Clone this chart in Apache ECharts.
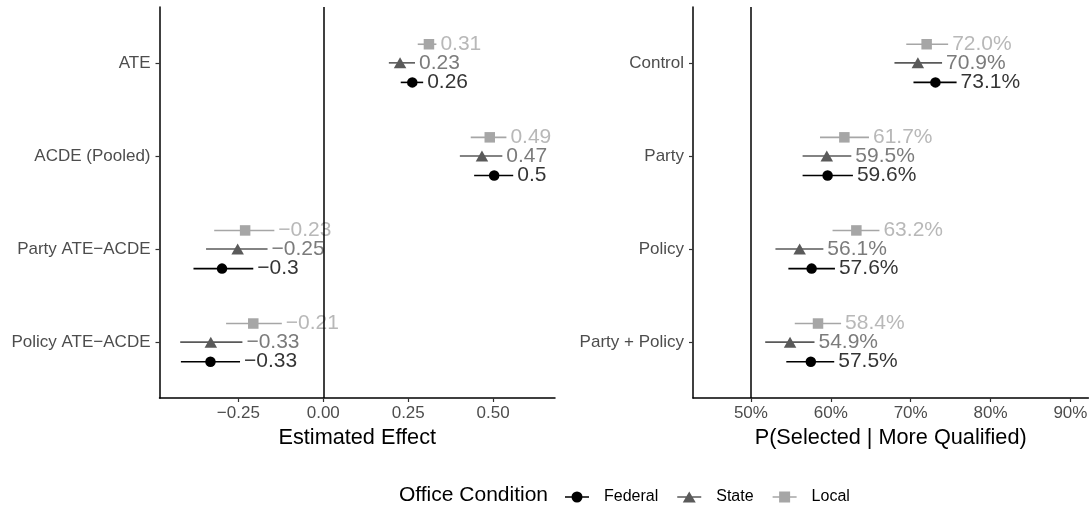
<!DOCTYPE html>
<html>
<head>
<meta charset="utf-8">
<script src="https://cdn.jsdelivr.net/npm/echarts@6/dist/echarts.min.js"></script>
<style>
html,body{margin:0;padding:0;background:#fff;}
#chart{width:1092px;height:513px;}
</style>
</head>
<body>
<div id="chart"></div>
<script>
// ---------- DATA ----------
const groups = ['Federal', 'State', 'Local'];
const groupColors = ['#000000', '#5a5a5a', '#a6a6a6'];
const groupSymbols = ['circle', 'triangle', 'rect'];

// Left panel (top to bottom)
const leftCategories = ['ATE', 'ACDE (Pooled)', 'Party ATE\u2212ACDE', 'Policy ATE\u2212ACDE'];
const leftFederal = [0.262, 0.503, -0.298, -0.332];
const leftState   = [0.226, 0.467, -0.252, -0.331];
const leftLocal   = [0.311, 0.490, -0.230, -0.206];
const leftFederalLow  = [0.228, 0.444, -0.382, -0.419];
const leftFederalHigh = [0.294, 0.559, -0.206, -0.245];
const leftStateLow    = [0.193, 0.402, -0.345, -0.421];
const leftStateHigh   = [0.270, 0.527, -0.164, -0.238];
const leftLocalLow    = [0.278, 0.434, -0.321, -0.286];
const leftLocalHigh   = [0.333, 0.539, -0.144, -0.122];
const leftTicks = [-0.25, 0, 0.25, 0.5];

// Right panel (percent, top to bottom)
const rightCategories = ['Control', 'Party', 'Policy', 'Party + Policy'];
const rightFederal = [73.1, 59.6, 57.6, 57.5];
const rightState   = [70.9, 59.5, 56.1, 54.9];
const rightLocal   = [72.0, 61.7, 63.2, 58.4];
const rightFederalLow  = [70.35, 56.47, 54.69, 54.43];
const rightFederalHigh = [75.75, 62.77, 60.52, 60.43];
const rightStateLow    = [67.97, 56.47, 53.07, 51.79];
const rightStateHigh   = [73.93, 62.57, 59.07, 57.96];
const rightLocalLow    = [69.45, 58.65, 60.22, 55.49];
const rightLocalHigh   = [74.69, 64.78, 66.09, 61.29];
const rightTicks = [50, 60, 70, 80, 90];

// ---------- BUILD ----------
const FONT = '"Liberation Sans", Arial, Helvetica, sans-serif';
const dodge = [-0.21, 0, 0.2]; // Federal below, Local above
const minus = s => s.replace('-', '\u2212');
const fmtLeft = v => minus(String(Number(v.toFixed(2))));
const fmtRight = v => v.toFixed(1) + '%';

const leftEst = [leftFederal, leftState, leftLocal];
const leftLo = [leftFederalLow, leftStateLow, leftLocalLow];
const leftHi = [leftFederalHigh, leftStateHigh, leftLocalHigh];
const rightEst = [rightFederal, rightState, rightLocal];
const rightLo = [rightFederalLow, rightStateLow, rightLocalLow];
const rightHi = [rightFederalHigh, rightStateHigh, rightLocalHigh];

const yPos = i => 4 - i; // first category on top

function panelSeries(axisIdx, est, lo, hi, fmt, refValue) {
  const out = [];
  groups.forEach((g, gi) => {
    const col = groupColors[gi];
    out.push({
      name: g, type: 'custom', xAxisIndex: axisIdx, yAxisIndex: axisIdx,
      silent: true, z: 2,
      data: est[gi].map((v, i) => [lo[gi][i], hi[gi][i], yPos(i) + dodge[gi]]),
      encode: { x: [0, 1], y: 2 },
      renderItem: (params, api) => {
        const p1 = api.coord([api.value(0), api.value(2)]);
        const p2 = api.coord([api.value(1), api.value(2)]);
        return { type: 'line', shape: { x1: p1[0], y1: p1[1], x2: p2[0], y2: p2[1] },
                 style: { stroke: col, lineWidth: 1.6 } };
      },
      itemStyle: { color: col }
    });
    out.push({
      name: g, type: 'scatter', xAxisIndex: axisIdx, yAxisIndex: axisIdx,
      silent: true, z: 3,
      symbol: groupSymbols[gi],
      symbolSize: gi === 0 ? 10.5 : (gi === 1 ? [12.5, 11] : 10.5),
      itemStyle: { color: col, opacity: 1 },
      data: est[gi].map((v, i) => [v, yPos(i) + dodge[gi]])
    });
    out.push({
      name: g, type: 'scatter', xAxisIndex: axisIdx, yAxisIndex: axisIdx,
      silent: true, z: 4, symbolSize: 0,
      itemStyle: { color: 'rgba(0,0,0,0)' },
      label: { show: true, position: 'right', distance: 4,
               formatter: p => p.value[2], color: col, fontSize: 21, fontFamily: FONT },
      data: est[gi].map((v, i) => [hi[gi][i], yPos(i) + dodge[gi], fmt(v)])
    });
  });
  // reference line
  out.push({
    type: 'scatter', xAxisIndex: axisIdx, yAxisIndex: axisIdx, data: [], silent: true,
    markLine: { silent: true, symbol: ['none', 'none'], label: { show: false },
                lineStyle: { color: '#000', width: 1.5, type: 'solid' },
                data: [{ xAxis: refValue }], animation: false }
  });
  return out;
}

function xAxisCfg(idx, min, max, ticks, fmt, name) {
  return {
    type: 'value', gridIndex: idx, min, max,
    name, nameLocation: 'middle', nameGap: 28,
    nameTextStyle: { fontSize: 21.7, color: '#000', fontFamily: FONT },
    splitLine: { show: false },
    axisLine: { show: true, onZero: false, lineStyle: { color: '#000', width: 1.5 } },
    axisTick: { show: true, length: 4, customValues: ticks, lineStyle: { color: '#333', width: 1.2 } },
    axisLabel: { customValues: ticks, formatter: fmt, fontSize: 17, color: '#4d4d4d',
                 fontFamily: FONT, margin: 7 }
  };
}
function yAxisCfg(idx, cats) {
  return {
    type: 'value', gridIndex: idx, min: 0.4, max: 4.6,
    splitLine: { show: false },
    axisLine: { show: true, onZero: false, lineStyle: { color: '#000', width: 1.5 } },
    axisTick: { show: true, length: 4, customValues: [1, 2, 3, 4], lineStyle: { color: '#333', width: 1.2 } },
    axisLabel: { customValues: [1, 2, 3, 4], formatter: v => cats[4 - Math.round(v)],
                 fontSize: 17, color: '#4d4d4d', fontFamily: FONT, margin: 9 }
  };
}

function legendIcon(kind) {
  const bar = 'M0,4.7 L24,4.7 L24,6.3 L0,6.3 Z ';
  if (kind === 0) return 'path://' + bar + 'M17.5,5.5 A5.5,5.5 0 1,1 6.5,5.5 A5.5,5.5 0 1,1 17.5,5.5 Z';
  if (kind === 1) return 'path://' + bar + 'M12,0 L18.5,11 L5.5,11 Z';
  return 'path://' + bar + 'M6.5,0 L17.5,0 L17.5,11 L6.5,11 Z';
}

const option = {
  animation: false,
  backgroundColor: '#fff',
  textStyle: { fontFamily: FONT },
  title: { text: 'Office Condition', left: 394, top: 480,
           textStyle: { fontSize: 21, fontWeight: 'normal', color: '#000', fontFamily: FONT } },
  legend: {
    left: 560, top: 484, itemWidth: 24, itemHeight: 11, itemGap: 19,
    selectedMode: false,
    textStyle: { fontSize: 16, color: '#000', fontFamily: FONT, padding: [0, 0, 0, 10] },
    data: groups.map((g, gi) => ({ name: g, icon: legendIcon(gi),
                                   itemStyle: { color: groupColors[gi] } }))
  },
  grid: [
    { left: 159.5, right: 537, top: 7, bottom: 115 },
    { left: 693, right: 3.6, top: 7, bottom: 115 }
  ],
  xAxis: [
    xAxisCfg(0, -0.482, 0.682, leftTicks, v => minus(v.toFixed(2)), 'Estimated Effect'),
    xAxisCfg(1, 42.75, 92.25, rightTicks, v => Math.round(v) + '%', 'P(Selected | More Qualified)')
  ],
  yAxis: [yAxisCfg(0, leftCategories), yAxisCfg(1, rightCategories)],
  series: [
    ...panelSeries(0, leftEst, leftLo, leftHi, fmtLeft, 0),
    ...panelSeries(1, rightEst, rightLo, rightHi, fmtRight, 50)
  ]
};

const chart = echarts.init(document.getElementById('chart'), null, { renderer: 'canvas' });
chart.setOption(option);
</script>
</body>
</html>
